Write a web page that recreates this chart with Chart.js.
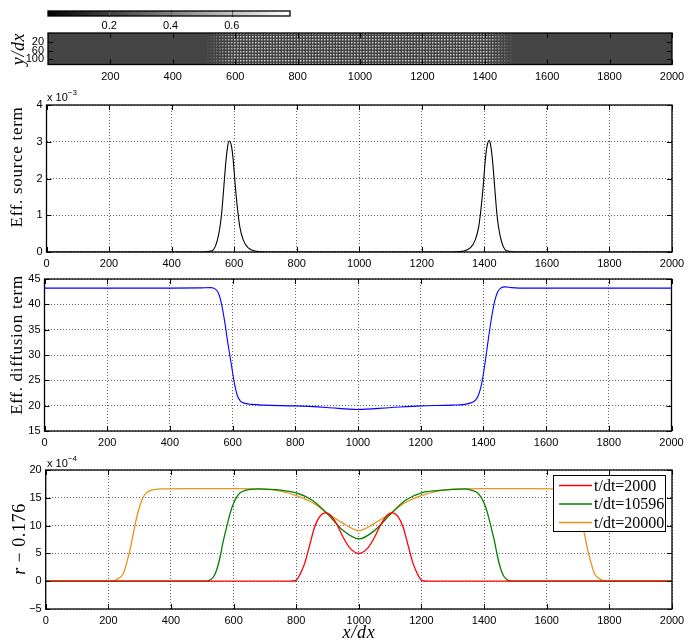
<!DOCTYPE html>
<html><head><meta charset="utf-8">
<script src="https://cdn.jsdelivr.net/npm/chart.js@4"></script>
<style>
html,body{margin:0;padding:0;background:#fff;}
#wrap{position:relative;width:699px;height:641px;overflow:hidden;}
#wrap canvas{position:absolute;left:0;top:0;}
</style></head><body>
<div id="wrap">
<canvas id="c0" width="699" height="641"></canvas>
<canvas id="c1" width="699" height="641"></canvas>
<canvas id="c2" width="699" height="641"></canvas>
<canvas id="c3" width="699" height="641"></canvas>
<canvas id="c4" width="699" height="641"></canvas>
</div>
<script>
// ---------------- data ----------------
const xTicksFull = [0,200,400,600,800,1000,1200,1400,1600,1800,2000];
const xTicksImg = [200,400,600,800,1000,1200,1400,1600,1800,2000];
const cbRange = [0, 0.79];
const cbTicks = [0.2, 0.4, 0.6];
const imgYTicks = [20, 60, 100];
// image panel: column segments (x from, x to) and texture strength
const imgSegStart = [0, 510, 530, 550, 570, 590, 1410, 1430, 1450, 1470, 1490];
const imgSegEnd   = [510, 530, 550, 570, 590, 1410, 1430, 1450, 1470, 1490, 2000];
const imgSegLevel = [0, 0.15, 0.35, 0.6, 0.85, 1, 0.85, 0.6, 0.35, 0.15, 0];

// effective source term (x 1e-3)
const srcX = [0,480,510,520,533,541,549,555,560,567,574,579,584,591,597,603,610,618,629,645,672,704,1000,1296,1328,1355,1371,1382,1390,1397,1403,1409,1416,1421,1426,1433,1440,1445,1451,1459,1467,1480,1490,1520,2000];
const srcY = [0,0,0.005,0.02,0.06,0.18,0.42,0.7,1.05,1.77,2.5,2.86,3.02,2.9,2.5,1.86,1.23,0.69,0.33,0.11,0.02,0,0,0,0.02,0.11,0.33,0.69,1.23,1.86,2.5,2.9,3.03,2.86,2.5,1.77,1.05,0.7,0.42,0.18,0.06,0.02,0.005,0,0];
const srcYTicks = [0,1,2,3,4];

// effective diffusion term
const difX = [0,400,500,530,545,555,565,575,585,595,605,615,625,640,660,700,800,900,1000,1100,1200,1300,1340,1360,1375,1385,1395,1405,1415,1425,1435,1445,1455,1470,1490,1550,2000];
const difY = [43.2,43.2,43.25,43.3,43.0,42.2,40.0,36.5,32.3,28.5,24.7,22.0,20.9,20.45,20.25,20.1,19.95,19.65,19.25,19.6,19.95,20.1,20.25,20.55,21.1,22.2,24.5,28.3,32.8,37.0,40.4,42.4,43.2,43.45,43.3,43.2,43.2];
const difYTicks = [15,20,25,30,35,40,45];

// r - 0.176 (x 1e-4)
const seriesLabels = ['t/dt=2000','t/dt=10596','t/dt=20000'];
const r1X = [0,780,800,810,827,843,859,875,893,907,928,949,971,1000,1029,1051,1072,1093,1107,1125,1141,1157,1173,1190,1200,1220,2000];
const r1Y = [0,0,0.15,1.0,3.2,6.5,9.8,11.6,12.3,12.0,10.4,8.0,6.0,5.0,6.0,8.0,10.4,12.0,12.3,11.6,9.8,6.5,3.2,1.0,0.15,0,0];
const r2X = [0,500,520,536,547,557,567,578,589,600,611,621,636,653,680,720,760,800,850,900,950,1000,1050,1100,1150,1200,1250,1300,1340,1364,1379,1389,1400,1411,1422,1433,1443,1453,1464,1480,1500,2000];
const r2Y = [0,0,0.1,0.8,2.2,4.4,7.2,9.8,12.2,14.0,15.2,15.9,16.3,16.5,16.6,16.5,16.3,15.9,14.6,12.1,9.1,7.6,9.1,12.0,14.6,15.9,16.3,16.5,16.6,16.3,15.9,15.2,14.0,12.2,9.8,7.2,4.4,2.2,0.8,0.1,0,0];
const r3X = [0,200,220,235,248,258,269,280,291,302,312,322,333,350,370,450,600,700,750,800,850,900,950,1000,1050,1100,1150,1200,1250,1300,1400,1550,1630,1650,1667,1678,1688,1698,1709,1720,1731,1742,1752,1765,1780,1800,2000];
const r3Y = [0,0,0.1,0.6,1.4,3.2,5.6,8.6,11.6,13.8,15.2,15.9,16.3,16.5,16.6,16.65,16.65,16.55,16.2,15.4,14.2,12.2,10.4,9.1,10.4,12.2,14.2,15.4,16.2,16.55,16.65,16.65,16.6,16.5,16.3,15.9,15.2,13.8,11.6,8.6,5.6,3.2,1.4,0.6,0.1,0,0];
const rYTicks = [-5,0,5,10,15,20];

// ---------------- helpers ----------------
Chart.defaults.font.family = '"Liberation Sans", Arial, sans-serif';
Chart.defaults.font.size = 11;
Chart.defaults.color = '#000';
const W = 699, H = 641;
const SERIF = '"Liberation Serif", "Times New Roman", serif';

function pad(T, R) { return {left: 0, top: T, right: W - R, bottom: 0}; }
function fmt(v) { const s = String(Math.round(v * 100) / 100); return v < 0 ? '\u2212' + s.slice(1) : s; }
function fixedTicks(list) { return s => { s.ticks = list.map(v => ({value: v})); }; }
const gridOn = {display: true, drawTicks: false, drawOnChartArea: true, color: 'rgba(0,0,0,0.6)', lineWidth: 1};
const gridOff = {display: false, drawTicks: false, drawOnChartArea: false};
function xAxis(min, max, list, grid, B, tp) {
  return {type: 'linear', min, max, afterBuildTicks: fixedTicks(list), afterFit: s => { s.height = H - B; },
    grid: grid ? gridOn : gridOff, border: {display: false, dash: [1, 2]},
    ticks: {autoSkip: false, maxRotation: 0, padding: tp == null ? 5 : tp, callback: v => fmt(v)}};
}
function yAxis(min, max, list, grid, L, extra) {
  return Object.assign({type: 'linear', min, max, afterBuildTicks: fixedTicks(list), afterFit: s => { s.width = L; },
    grid: grid ? gridOn : gridOff, border: {display: false, dash: [1, 2]},
    ticks: {autoSkip: false, padding: 4, callback: v => fmt(v)}}, extra || {});
}
function line(ctx, x1, y1, x2, y2) { ctx.beginPath(); ctx.moveTo(x1, y1); ctx.lineTo(x2, y2); ctx.stroke(); }
function framePlugin(yId, opts) {
  opts = opts || {};
  return {id: 'frame', afterDatasetsDraw(chart) {
    const ctx = chart.ctx, a = chart.chartArea, L = opts.len || 5;
    ctx.save();
    ctx.strokeStyle = opts.tickColor || '#000'; ctx.lineWidth = 1;
    const xs = chart.scales.x;
    xs.ticks.forEach(t => { const p = Math.round(xs.getPixelForValue(t.value)) + 0.5;
      line(ctx, p, a.top, p, a.top + L); line(ctx, p, a.bottom, p, a.bottom - L); });
    if (yId) { const ys = chart.scales[yId];
      ys.ticks.forEach(t => { const p = Math.round(ys.getPixelForValue(t.value)) + 0.5;
        line(ctx, a.left, p, a.left + L, p); line(ctx, a.right, p, a.right - L, p); }); }
    ctx.strokeStyle = '#000'; ctx.lineWidth = opts.bw || 1.3;
    ctx.strokeRect(a.left, a.top, a.right - a.left, a.bottom - a.top);
    ctx.restore();
  }};
}
function textPlugin(items) {
  return {id: 'texts', afterDraw(chart) {
    const ctx = chart.ctx;
    items.forEach(it => {
      ctx.save();
      ctx.translate(it.x, it.y); if (it.rot) ctx.rotate(it.rot);
      ctx.textBaseline = 'middle'; ctx.fillStyle = '#000';
      let w = 0; const ws = [];
      it.segs.forEach(s => { ctx.font = s.font; ctx.letterSpacing = s.ls || '0px'; const m = ctx.measureText(s.t).width; ws.push(m); w += m; });
      let x = it.left ? 0 : -w / 2;
      it.segs.forEach((s, i) => { ctx.font = s.font; ctx.letterSpacing = s.ls || '0px'; ctx.fillText(s.t, x, s.dy || 0); x += ws[i]; });
      ctx.restore();
    });
  }};
}
function gray(v) { v = Math.round(v); return 'rgb(' + v + ',' + v + ',' + v + ')'; }
function texturePattern(level) {
  const c = document.createElement('canvas'); c.width = 3; c.height = 3;
  const g = c.getContext('2d');
  g.fillStyle = '#444444'; g.fillRect(0, 0, 3, 3);
  g.fillStyle = gray(68 + level * (205 - 68)); g.fillRect(0, 0, 1, 1);
  g.fillStyle = gray(68 + level * (135 - 68)); g.fillRect(1, 0, 1, 1); g.fillRect(0, 1, 1, 1);
  g.fillStyle = gray(68 + level * (95 - 68)); g.fillRect(1, 1, 1, 1);
  return g.createPattern(c, 'repeat');
}
const base = {responsive: false, animation: false, events: [], plugins: {legend: {display: false}, tooltip: {enabled: false}}};
function pts(xs, ys) { return xs.map((x, i) => ({x, y: ys[i]})); }
const supFont = '11px "Liberation Sans"', supFont2 = '8px "Liberation Sans"';

// ---------------- colorbar ----------------
new Chart(document.getElementById('c0'), {
  type: 'bar',
  data: {labels: ['c'], datasets: [{data: [[cbRange[0], cbRange[1]]], borderWidth: 0, barPercentage: 1, categoryPercentage: 1,
    backgroundColor: ctx => { const a = ctx.chart.chartArea; if (!a) return '#888';
      const g = ctx.chart.ctx.createLinearGradient(a.left, 0, a.right, 0); g.addColorStop(0, '#000'); g.addColorStop(1, '#fff'); return g; }}]},
  options: Object.assign({}, base, {indexAxis: 'y', layout: {padding: {left: 48, top: 11, right: W - 290, bottom: 0}},
    scales: {x: xAxis(cbRange[0], cbRange[1], cbTicks, false, 16, 3), y: {type: 'category', display: false}}}),
  plugins: [framePlugin(null, {len: 6, tickColor: '#666', bw: 1.3})]
});

// ---------------- image panel ----------------
new Chart(document.getElementById('c1'), {
  type: 'bar',
  data: {labels: ['r'], datasets: imgSegStart.map((s, i) => ({data: [[s, imgSegEnd[i]]], backgroundColor: texturePattern(imgSegLevel[i]),
    borderWidth: 0, barPercentage: 1, categoryPercentage: 1, grouped: false, yAxisID: 'y'}))},
  options: Object.assign({}, base, {indexAxis: 'y', layout: {padding: pad(33, 672)},
    scales: {x: xAxis(0, 2000, xTicksImg, false, 64.5, 6), y: {type: 'category', display: false},
             yt: yAxis(0, 100, imgYTicks, false, 48, {position: 'left', reverse: true})}}),
  plugins: [framePlugin('yt', {len: 5}), textPlugin([{x: 19, y: 49, rot: -Math.PI / 2, segs: [{t: 'y/dx', font: 'italic 18px ' + SERIF, ls: '0.6px'}]}])]
});

// ---------------- source term ----------------
new Chart(document.getElementById('c2'), {
  type: 'line',
  data: {datasets: [{data: pts(srcX, srcY), borderColor: '#000', borderWidth: 1.1, pointRadius: 0, cubicInterpolationMode: 'monotone', fill: false}]},
  options: Object.assign({}, base, {layout: {padding: pad(105, 672)},
    scales: {x: xAxis(0, 2000, xTicksFull, true, 252), y: yAxis(0, 4, srcYTicks, true, 46.5)}}),
  plugins: [framePlugin('y'), textPlugin([
    {x: 18, y: 167, rot: -Math.PI / 2, segs: [{t: 'Eff. source term', font: '17px ' + SERIF, ls: '0.7px'}]},
    {x: 47, y: 98, left: true, segs: [{t: 'x 10', font: supFont}, {t: '\u22123', font: supFont2, dy: -5}]}])]
});

// ---------------- diffusion term ----------------
new Chart(document.getElementById('c3'), {
  type: 'line',
  data: {datasets: [{data: pts(difX, difY), borderColor: '#0000ff', borderWidth: 1.1, pointRadius: 0, cubicInterpolationMode: 'monotone', fill: false}]},
  options: Object.assign({}, base, {layout: {padding: pad(279, 671.5)},
    scales: {x: xAxis(0, 2000, xTicksFull, true, 431), y: yAxis(15, 45, difYTicks, true, 44.5)}}),
  plugins: [framePlugin('y'), textPlugin([
    {x: 18, y: 345, rot: -Math.PI / 2, segs: [{t: 'Eff. diffusion term', font: '17px ' + SERIF, ls: '0.7px'}]}])]
});

// ---------------- r - 0.176 ----------------
const rColors = ['#ff0000', '#008000', '#e8921a'];
new Chart(document.getElementById('c4'), {
  type: 'line',
  data: {datasets: [[r1X, r1Y], [r2X, r2Y], [r3X, r3Y]].map((d, i) => ({label: seriesLabels[i], data: pts(d[0], d[1]), borderColor: rColors[i],
    borderWidth: 1.3, pointRadius: 0, cubicInterpolationMode: 'monotone', fill: false}))},
  options: Object.assign({}, base, {layout: {padding: pad(470, 672)},
    scales: {x: xAxis(0, 2000, xTicksFull, true, 609), y: yAxis(-5, 20, rYTicks, true, 45.7)}}),
  plugins: [framePlugin('y'),
    {id: 'lg', afterDraw(chart) {
      const ctx = chart.ctx; ctx.save();
      ctx.fillStyle = '#fff'; ctx.fillRect(553, 475, 113, 57);
      ctx.strokeStyle = '#000'; ctx.lineWidth = 1; ctx.strokeRect(553.5, 475.5, 112, 56);
      chart.data.datasets.forEach((d, i) => {
        const y = 485.5 + i * 18.5;
        ctx.strokeStyle = d.borderColor; ctx.lineWidth = 1.4; line(ctx, 559, y, 592, y);
        ctx.fillStyle = '#000'; ctx.font = '16px ' + SERIF; ctx.textBaseline = 'middle'; ctx.fillText(d.label, 594, y + 1);
      });
      ctx.restore();
    }},
    textPlugin([
      {x: 20, y: 539, rot: -Math.PI / 2, segs: [{t: 'r', font: 'italic 18px ' + SERIF}, {t: ' \u2212 0.176', font: '18px ' + SERIF, ls: '0.6px'}]},
      {x: 47, y: 464, left: true, segs: [{t: 'x 10', font: supFont}, {t: '\u22124', font: supFont2, dy: -5}]},
      {x: 359, y: 633, segs: [{t: 'x/dx', font: 'italic 18px ' + SERIF, ls: '0.8px'}]}])]
});
</script>
</body></html>
